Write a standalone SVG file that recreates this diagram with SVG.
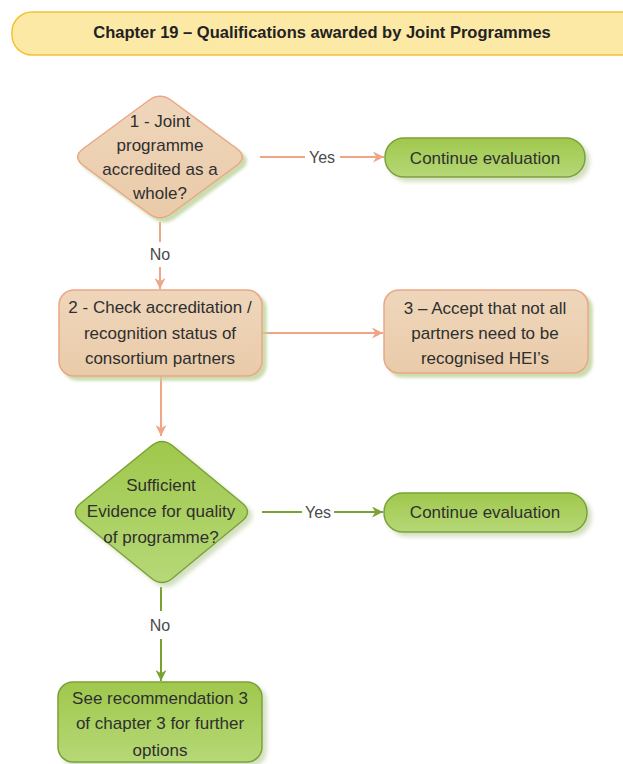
<svg xmlns="http://www.w3.org/2000/svg" width="623" height="764" viewBox="0 0 623 764">
<defs>
  <linearGradient id="tan" x1="0" y1="0" x2="0" y2="1">
    <stop offset="0" stop-color="#efd6bb"/>
    <stop offset="1" stop-color="#e9cba9"/>
  </linearGradient>
  <linearGradient id="grn" x1="0" y1="0" x2="0" y2="1">
    <stop offset="0" stop-color="#9fc84c"/>
    <stop offset="1" stop-color="#b6d877"/>
  </linearGradient>
  <filter id="shT" x="-10%" y="-10%" width="130%" height="130%">
    <feDropShadow dx="4" dy="4" stdDeviation="1.5" flood-color="#bdd39a" flood-opacity="0.8"/>
  </filter>
  <filter id="shG" x="-10%" y="-10%" width="130%" height="130%">
    <feDropShadow dx="4" dy="4" stdDeviation="2" flood-color="#c9d8b0" flood-opacity="0.8"/>
  </filter>
  <marker id="arT" viewBox="0 0 10 10" refX="10" refY="5" markerWidth="11" markerHeight="11" markerUnits="userSpaceOnUse" orient="auto">
    <path d="M0,0 L10,5 L0,10 L3,5 Z" fill="#eea786"/>
  </marker>
  <marker id="arG" viewBox="0 0 10 10" refX="10" refY="5" markerWidth="11" markerHeight="11" markerUnits="userSpaceOnUse" orient="auto">
    <path d="M0,0 L10,5 L0,10 L3,5 Z" fill="#7aa232"/>
  </marker>
</defs>
<style>
  .t { font-family: "Liberation Sans", Arial, sans-serif; font-size: 17px; fill: #2f2f2f; text-anchor: middle; }
  .lbl { font-family: "Liberation Sans", Arial, sans-serif; font-size: 16px; fill: #4a4a4a; text-anchor: middle; }
  .title { font-family: "Liberation Sans", Arial, sans-serif; font-size: 16.5px; font-weight: bold; fill: #222; text-anchor: middle; }
  .tanS { fill: url(#tan); stroke: #eba687; stroke-width: 1.5; filter: url(#shT); }
  .grnS { fill: url(#grn); stroke: #79a235; stroke-width: 1.5; filter: url(#shG); }
  .cT { stroke: #eea786; stroke-width: 2; fill: none; }
  .cG { stroke: #7aa232; stroke-width: 2; fill: none; }
</style>

<g id="title">
  <rect x="12" y="12" width="640" height="43" rx="20" ry="20" fill="#fde9a6" stroke="#f5c232" stroke-width="1.5"/>
  <text class="title" x="322" y="38">Chapter 19 – Qualifications awarded by Joint Programmes</text>
</g>

<g id="connectors">
  <line class="cT" x1="260" y1="157" x2="305" y2="157"/>
  <line class="cT" x1="340" y1="157" x2="384" y2="157" marker-end="url(#arT)"/>
  <line class="cT" x1="160" y1="222" x2="160" y2="242"/>
  <line class="cT" x1="160" y1="267" x2="160" y2="289" marker-end="url(#arT)"/>
  <line class="cT" x1="262" y1="333" x2="383" y2="333" marker-end="url(#arT)"/>
  <line class="cT" x1="161" y1="376" x2="161" y2="436" marker-end="url(#arT)"/>
  <line class="cG" x1="262" y1="512" x2="302" y2="512"/>
  <line class="cG" x1="334" y1="512" x2="383" y2="512" marker-end="url(#arG)"/>
  <line class="cG" x1="161" y1="587" x2="161" y2="611"/>
  <line class="cG" x1="161" y1="639" x2="161" y2="681" marker-end="url(#arG)"/>
  <text class="lbl" x="322" y="163">Yes</text>
  <text class="lbl" x="160" y="260">No</text>
  <text class="lbl" x="318" y="518">Yes</text>
  <text class="lbl" x="160" y="631">No</text>
</g>

<g id="n1">
  <path class="tanS" d="M171.4,100.5 L236.6,148.5 Q248,157 236.6,165.5 L171.4,213.5 Q160,222 148.6,213.5 L83.4,165.5 Q72,157 83.4,148.5 L148.6,100.5 Q160,92 171.4,100.5 Z"/>
  <text class="t" x="160" y="127">1 - Joint</text>
  <text class="t" x="160" y="151">programme</text>
  <text class="t" x="160" y="175">accredited as a</text>
  <text class="t" x="160" y="199">whole?</text>
</g>

<g id="n_cont1">
  <rect class="grnS" x="385" y="138" width="200" height="39" rx="19" ry="19"/>
  <text class="t" x="485" y="164">Continue evaluation</text>
</g>

<g id="n2">
  <rect class="tanS" x="59" y="290" width="203" height="86" rx="15" ry="15"/>
  <text class="t" x="160" y="313">2 - Check accreditation /</text>
  <text class="t" x="160" y="339">recognition status of</text>
  <text class="t" x="160" y="364">consortium partners</text>
</g>

<g id="n3">
  <rect class="tanS" x="384" y="290" width="204" height="83" rx="15" ry="15"/>
  <text class="t" x="485" y="314">3 – Accept that not all</text>
  <text class="t" x="485" y="339">partners need to be</text>
  <text class="t" x="485" y="364">recognised HEI’s</text>
</g>

<g id="n4">
  <path class="grnS" d="M172.9,446 L242.1,503 Q253,512 242.1,521 L172.9,578 Q162,587 151.1,578 L80.9,521 Q70,512 80.9,503 L151.1,446 Q162,437 172.9,446 Z"/>
  <text class="t" x="161" y="491">Sufficient</text>
  <text class="t" x="161" y="517">Evidence for quality</text>
  <text class="t" x="161" y="543">of programme?</text>
</g>

<g id="n_cont2">
  <rect class="grnS" x="384" y="493" width="203" height="39" rx="19" ry="19"/>
  <text class="t" x="485" y="518">Continue evaluation</text>
</g>

<g id="n5">
  <rect class="grnS" x="58" y="682" width="204" height="80" rx="15" ry="15"/>
  <text class="t" x="160" y="704">See recommendation 3</text>
  <text class="t" x="160" y="729">of chapter 3 for further</text>
  <text class="t" x="160" y="756">options</text>
</g>
</svg>
